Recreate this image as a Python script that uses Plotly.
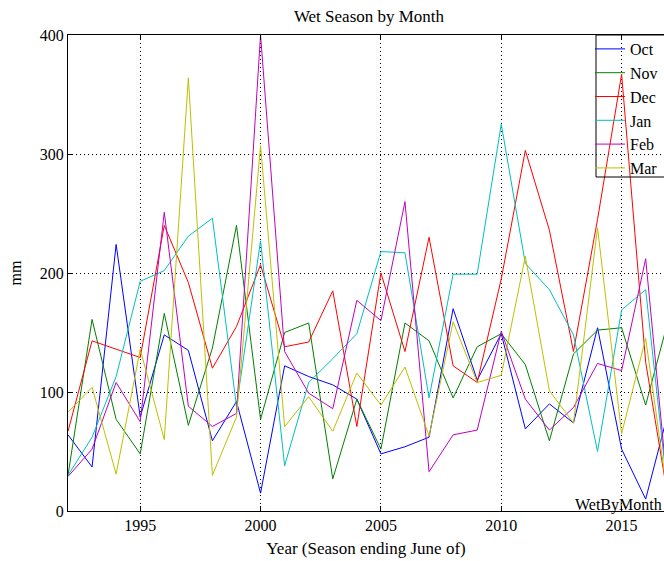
import plotly.graph_objects as go

years = list(range(1992, 2018))

oct_mm = [64, 37, 224, 79, 148, 135, 59, 92, 15, 122, 113, 106, 94, 48, 54, 62, 170, 110, 149, 69, 90, 74, 154, 52, 10, 88]
nov_mm = [30, 161, 77, 48, 166, 72, 137, 240, 77, 150, 158, 27, 94, 52, 158, 143, 95, 138, 149, 123, 59, 132, 152, 154, 89, 165]
dec_mm = [67, 143, 136, 129, 240, 192, 120, 155, 207, 138, 142, 185, 71, 200, 134, 230, 122, 108, 195, 303, 236, 134, 245, 367, 125, 2]
jan_mm = [30, 62, 113, 193, 202, 231, 246, 88, 227, 38, 108, 128, 149, 218, 217, 95, 199, 199, 325, 208, 186, 148, 50, 169, 186, 0]
feb_mm = [29, 52, 108, 75, 251, 88, 71, 82, 400, 134, 99, 86, 177, 160, 260, 33, 64, 68, 151, 94, 68, 87, 124, 118, 212, 0]
mar_mm = [83, 104, 31, 136, 60, 364, 30, 79, 307, 71, 96, 67, 116, 89, 121, 63, 159, 108, 114, 214, 101, 74, 238, 65, 145, 0]

series_names = ["Oct", "Nov", "Dec", "Jan", "Feb", "Mar"]
series_values = [oct_mm, nov_mm, dec_mm, jan_mm, feb_mm, mar_mm]
series_colors = ["#0000FF", "#008000", "#FF0000", "#00BFBF", "#BF00BF", "#BFBF00"]

x_ticks = [1995, 2000, 2005, 2010, 2015]
y_ticks = [0, 100, 200, 300, 400]

FONT = "Liberation Serif, Times New Roman, serif"
GRID_DASH = "1px,3px"

fig = go.Figure()
for name, vals, col in zip(series_names, series_values, series_colors):
    fig.add_trace(go.Scatter(x=years, y=vals, mode="lines", name=name,
                             line=dict(color=col, width=1)))

W, H = 664, 561
ML, MT, MB = 68, 35, 50
plot_w = W - ML
plot_h = H - MT - MB
px_per_year = 24.07
x_max = 1992 + plot_w / px_per_year

fig.update_layout(
    width=W, height=H,
    margin=dict(l=ML, r=0, t=MT, b=MB, pad=0),
    paper_bgcolor="white", plot_bgcolor="white",
    font=dict(family=FONT, size=16, color="black"),
    title=dict(text="Wet Season by Month", xref="container", yref="container",
               x=369 / W, y=1 - 16 / H, xanchor="center", yanchor="middle",
               font=dict(family=FONT, size=17, color="black")),
    showlegend=True,
    legend=dict(x=(590 - ML) / plot_w, y=1 + 3 / plot_h, xanchor="left", yanchor="top",
                bgcolor="rgba(0,0,0,0)", borderwidth=0,
                font=dict(family=FONT, size=16, color="black"),
                itemwidth=30, tracegroupgap=0),
    xaxis=dict(range=[1992, x_max], tickvals=x_ticks, ticktext=[str(v) for v in x_ticks],
               showgrid=True, gridcolor="black", griddash=GRID_DASH, gridwidth=1,
               showline=True, linecolor="black", linewidth=1, mirror="ticks",
               ticks="inside", ticklen=5, tickcolor="black",
               zeroline=False,
               title=dict(text="Year (Season ending June of)", standoff=8,
                          font=dict(family=FONT, size=17))),
    yaxis=dict(range=[0, 400], tickvals=y_ticks, ticktext=[str(v) for v in y_ticks],
               showgrid=True, gridcolor="black", griddash=GRID_DASH, gridwidth=1,
               showline=True, linecolor="black", linewidth=1, mirror=False,
               ticks="inside", ticklen=5, tickcolor="black",
               zeroline=False,
               title=dict(text="mm", standoff=14, font=dict(family=FONT, size=16))),
)

# legend frame: open on the right (cut off at the window edge as in the reference)
lx0 = (596 - ML) / plot_w
ly0 = 1 - (177 - MT) / plot_h
fig.add_shape(type="path", xref="paper", yref="paper",
              path=f"M 1.05,1 L {lx0},1 L {lx0},{ly0} L 1.05,{ly0}",
              line=dict(color="black", width=1))

fig.add_annotation(text="WetByMonth", xref="paper", yref="paper",
                   x=(573 - ML) / plot_w, y=0, xanchor="left", yanchor="bottom",
                   yshift=-5, showarrow=False,
                   font=dict(family=FONT, size=16, color="black"))

fig.write_html("out.html")
